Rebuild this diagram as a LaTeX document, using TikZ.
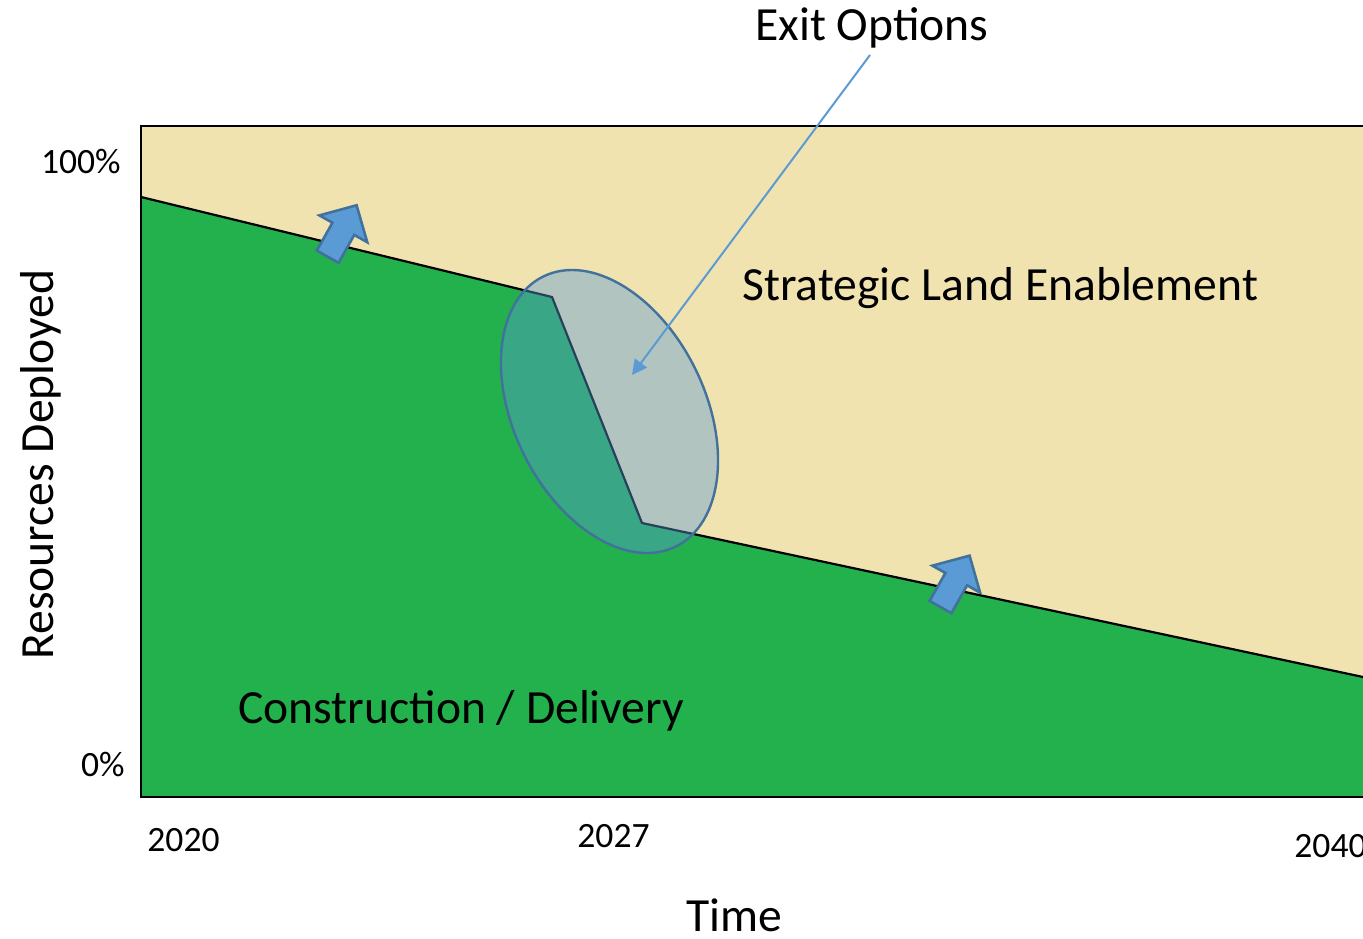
\documentclass[tikz,border=0pt]{standalone}
\usepackage{fontspec}
\setmainfont{Carlito}
\usetikzlibrary{arrows.meta}
\definecolor{beige}{HTML}{F0E3B0}
\definecolor{grn}{HTML}{22B14C}
\definecolor{accblue}{HTML}{5B9BD5}
\definecolor{edgeblue}{HTML}{41719C}
\tikzset{
  bigtext/.style={inner sep=0pt, font=\fontsize{23.8}{28}\selectfont},
  ticktext/.style={inner sep=0pt, font=\fontsize{17.8}{21}\selectfont},
  blockarrow/.pic={\draw[edgeblue, line width=1.3pt, fill=accblue, line join=miter]
     (0,-12.5) -- (32,-12.5) -- (32,-27.4) -- (59,0) -- (32,27.4) -- (32,12.5) -- (0,12.5) -- cycle;},
  calloutline/.style={accblue, line width=1pt, -{Triangle[length=7.5pt,width=7.5pt]}}
}
\begin{document}
\begin{tikzpicture}[x=0.5pt,y=-0.5pt]
\useasboundingbox (0,0) rectangle (1363,938);
% areas
\fill[beige] (141,126) rectangle (1363,797);
\fill[grn] (141,197) -- (552,297) -- (642,523) -- (1363,677) -- (1363,797) -- (141,797) -- cycle;
\draw[line width=1.1pt] (141,197) -- (552,297) -- (642,523) -- (1363,677);
\draw[line width=1.1pt] (1363,126) -- (141,126) -- (141,797) -- (1363,797);
% ellipse
\draw[edgeblue, line width=1.2pt, fill=accblue, fill opacity=0.42]
  (609.5,411.5) ellipse [x radius=75.2pt, y radius=47.9pt, rotate=-63.9];
% block arrows
\pic[rotate=60.7] at (327.7,256.7) {blockarrow};
\pic[rotate=60.5] at (940.5,607) {blockarrow};
% labels
\node[bigtext, anchor=base west] (exit) at (755,40) {Exit Options};
\node[bigtext, anchor=base west] (sle) at (742,300) {Strategic Land Enablement};
\node[bigtext, anchor=base west] (cd) at (238,723) {Construction / Delivery};
\node[bigtext, anchor=base west] (time) at (686,931) {Time};
\node[bigtext, anchor=base west, rotate=90] (res) at (53,660) {Resources Deployed};
\node[ticktext, anchor=base east] (p100) at (121,173) {100\%};
\node[ticktext, anchor=base east] (p0) at (125,776) {0\%};
\node[ticktext, anchor=base west] (y2020) at (147,851) {2020};
\node[ticktext, anchor=base west] (y2027) at (577,847) {2027};
\node[ticktext, anchor=base west] (y2040) at (1294,857) {2040};
% callout
\coordinate (exitstart) at (870,55);
\coordinate (exittarget) at (632,375);
\draw[calloutline] (exitstart) -- (exittarget);
\end{tikzpicture}
\end{document}
